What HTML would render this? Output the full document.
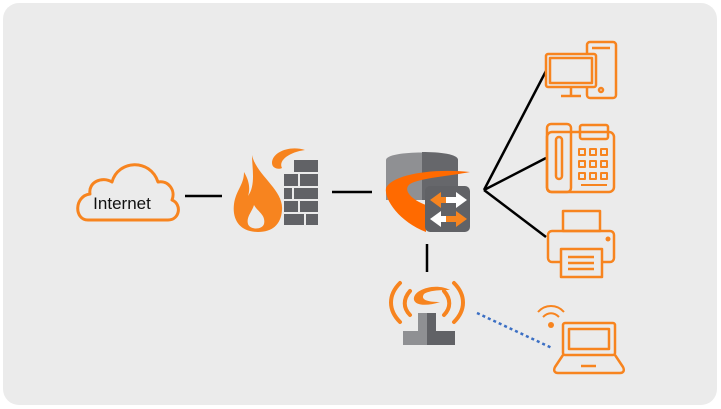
<!DOCTYPE html>
<html><head><meta charset="utf-8"><style>
html,body{margin:0;padding:0;background:#fff;}
svg{display:block;}
</style></head><body>
<svg width="721" height="409" viewBox="0 0 721 409" xmlns="http://www.w3.org/2000/svg">
<rect x="3" y="3" width="714" height="402" rx="16" fill="#ebebeb"/>
<path d="M88,220 C74,220 74,196 90,194 C88,182 102,176 112,182 C118,160 150,158 158,182 C168,180 176,190 172,200 C182,204 180,220 168,220 Z" fill="none" stroke="#f7841f" stroke-width="3" stroke-linejoin="round"/>
<text x="122" y="209" font-family="Liberation Sans, sans-serif" font-size="17" text-anchor="middle" fill="#111">Internet</text>
<g stroke="#000" stroke-width="2.5">
<line x1="185" y1="196" x2="222" y2="196"/>
<line x1="332" y1="192" x2="372" y2="192"/>
<line x1="427" y1="244" x2="427" y2="272"/>
<line x1="484" y1="190" x2="546" y2="71"/>
<line x1="484" y1="190" x2="546" y2="158"/>
<line x1="484" y1="190" x2="546" y2="237"/>
</g>
<line x1="477" y1="313" x2="552" y2="348" stroke="#3b6fc4" stroke-width="2.5" stroke-dasharray="3,3"/>
<g fill="#616266">
<rect x="294" y="160" width="24" height="12"/>
<rect x="284" y="174" width="14" height="12"/><rect x="300" y="174" width="18" height="12"/>
<rect x="284" y="188" width="8" height="11"/><rect x="294" y="188" width="24" height="11"/>
<rect x="284" y="201" width="14" height="11"/><rect x="300" y="201" width="18" height="11"/>
<rect x="284" y="214" width="20" height="11"/><rect x="306" y="214" width="12" height="11"/>
</g>
<path d="M252,155 C256,175 284,190 282,210 C281,225 272,232 258,232 C240,232 232,220 234,204 C236,190 244,185 244,172 C250,182 250,190 248,196 C256,185 252,168 252,155 Z" fill="#f7841f"/>
<path d="M254,205 C258,212 266,215 264,224 C262,230 250,230 248,224 C246,217 252,212 254,205 Z" fill="#ebebeb"/>
<path d="M305,150 C290,145 272,152 272,163 C272,168 278,170 282,168 C278,160 290,152 305,150 Z" fill="#f7841f"/>
<path d="M386,160 C386,150 458,150 458,160 L458,200 L386,200 Z" fill="#8f9093"/>
<path d="M422,152 C440,152 458,154 458,160 L458,200 L422,200 Z" fill="#66676b"/>
<path d="M470,172 C430,168 392,175 386,188 C384,200 400,222 426,232 L426,205 C412,200 402,190 410,184 C420,178 450,176 470,172 Z" fill="#ff6a00"/>
<rect x="425" y="186" width="45" height="46" rx="5" fill="#616266"/>
<path d="M430,200 L441,192 L441,197 L451,197 L451,203 L441,203 L441,208 Z" fill="#f7841f"/>
<path d="M467,200 L456,192 L456,197 L446,197 L446,203 L456,203 L456,208 Z" fill="#fff"/>
<path d="M430,219 L441,211 L441,216 L451,216 L451,222 L441,222 L441,227 Z" fill="#fff"/>
<path d="M467,219 L456,211 L456,216 L446,216 L446,222 L456,222 L456,227 Z" fill="#f7841f"/>
<g fill="none" stroke="#f7841f" stroke-width="4" stroke-linecap="round">
<path d="M400,283 C388,295 388,310 400,322"/>
<path d="M410,291 C403,299 403,308 410,315"/>
<path d="M454,283 C466,295 466,310 454,322"/>
<path d="M444,291 C451,299 451,308 444,315"/>
</g>
<path d="M450,290 C435,282 412,290 414,300 C416,306 428,306 440,302 C428,302 420,300 424,294 C430,290 442,290 450,290 Z" fill="#f7841f"/>
<path d="M418,313 L427,313 L427,345 L403,345 L403,331 L418,331 Z" fill="#8f9093"/>
<path d="M427,313 L436,313 L436,331 L455,331 L455,345 L427,345 Z" fill="#616266"/>
<g fill="none" stroke="#f7841f" stroke-width="2.5" stroke-linejoin="round">
<rect x="587" y="42" width="29" height="56" rx="3"/>
<line x1="592" y1="48" x2="610" y2="48"/>
<circle cx="601" cy="90" r="2"/>
<rect x="546" y="54" width="50" height="33" rx="2" fill="#ebebeb"/>
<rect x="550" y="58" width="42" height="25"/>
<line x1="571" y1="87" x2="571" y2="95"/>
<line x1="561" y1="96" x2="581" y2="96"/>
<rect x="547" y="124" width="24" height="68" rx="4"/>
<rect x="556" y="137" width="6" height="42" rx="3"/>
<rect x="547" y="132" width="67" height="60" rx="5"/>
<rect x="580" y="125" width="28" height="14" rx="2"/>
<g stroke-width="2"><rect x="579" y="149" width="6" height="6"/><rect x="590" y="149" width="6" height="6"/><rect x="601" y="149" width="6" height="6"/>
<rect x="579" y="161" width="6" height="6"/><rect x="590" y="161" width="6" height="6"/><rect x="601" y="161" width="6" height="6"/>
<rect x="579" y="173" width="6" height="6"/><rect x="590" y="173" width="6" height="6"/><rect x="601" y="173" width="6" height="6"/>
<line x1="581" y1="185" x2="607" y2="185"/></g>
<rect x="563" y="211" width="37" height="20"/>
<rect x="548" y="231" width="66" height="31" rx="4"/>
<rect x="561" y="249" width="41" height="28" fill="#ebebeb"/>
<line x1="568" y1="257" x2="594" y2="257"/><line x1="568" y1="263" x2="594" y2="263"/><line x1="568" y1="269" x2="594" y2="269"/>
<rect x="563" y="323" width="52" height="32" rx="2"/>
<rect x="569" y="329" width="40" height="20"/>
<path d="M563,355 L555,367 C553,371 555,373 558,373 L620,373 C623,373 625,371 623,367 L615,355"/>
<line x1="581" y1="366" x2="596" y2="366"/>
<path d="M538,312 C545,304 557,304 564,312" stroke-width="2"/>
<path d="M543,317 C548,312 554,312 559,317" stroke-width="2"/>
</g>
<circle cx="608" cy="239" r="2.5" fill="#f7841f"/>
<circle cx="551" cy="325" r="3" fill="#f7841f"/>
</svg>
</body></html>
